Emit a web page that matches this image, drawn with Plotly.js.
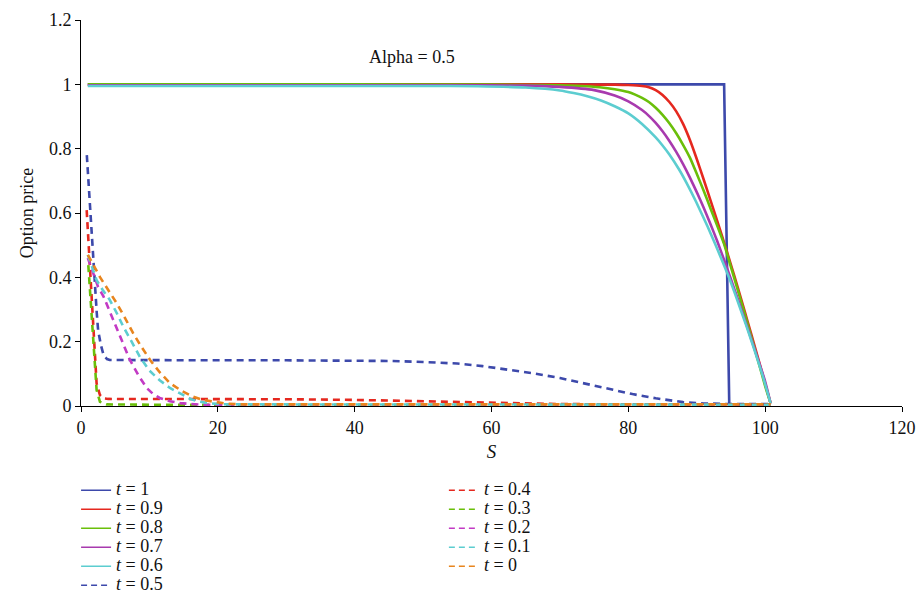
<!DOCTYPE html>
<html>
<head>
<meta charset="utf-8">
<script src="https://cdn.plot.ly/plotly-3.0.1.min.js"></script>
<style>html,body{margin:0;padding:0;background:#fff;}#chart{width:923px;height:597px;}</style>
</head>
<body>
<div id="chart"></div>
<script>
// ---- data ----
const tLabels = ["1","0.9","0.8","0.7","0.6","0.5","0.4","0.3","0.2","0.1","0"];
const colors = ["#3d49ab","#e5281f","#6abf0a","#a83aae","#5ccdd0","#3d49ab","#e5281f","#6abf0a","#c23ac4","#5ccdd0","#e8851e"];

const s_t10 = [1,20,40,60,80,94.0,94.75,100.8];
const p_t10 = [1,1,1,1,1,1,0.005,0.005];

const s_t09 = [1,20,40,60,70,75,78,80,82,83,84,85,86,87,88,89,90,91,92,93,94,95,96,97,98,99,100,100.8];
const p_t09 = [1,1,1,1,1,0.999,0.999,0.998,0.995,0.991,0.982,0.967,0.945,0.916,0.877,0.827,0.768,0.705,0.64,0.575,0.508,0.439,0.368,0.295,0.221,0.146,0.069,0.008];

const s_t08 = [1,20,40,60,65,70,73,75.8,78,80,81,82,83,84,85,86,87,88,89,90,91,92,93,94,95,96,97,98,99,100,100.8];
const p_t08 = [1,1,1,0.999,0.998,0.997,0.995,0.991,0.985,0.976,0.968,0.958,0.945,0.927,0.905,0.879,0.848,0.812,0.772,0.722,0.67,0.615,0.56,0.503,0.432,0.36,0.287,0.213,0.138,0.062,0.008];

const s_t07 = [1,20,40,55,65,70,75,78,80,82,83,84,85,86,87,88,89,90,91,92,93,94,95,96,97,98,99,100,100.8];
const p_t07 = [0.997,0.997,0.997,0.997,0.996,0.992,0.982,0.965,0.947,0.92,0.902,0.88,0.854,0.824,0.79,0.752,0.71,0.665,0.617,0.566,0.512,0.454,0.394,0.333,0.27,0.206,0.142,0.076,0.008];

const s_t06 = [1,20,40,50,58,65,70,72,74,76,78,80,82,84,85,86,87.4,88.6,89.9,91.6,92.6,94.7,96,97.2,98.4,99.6,100.8];
const p_t06 = [0.995,0.995,0.995,0.995,0.994,0.99,0.981,0.973,0.963,0.95,0.932,0.91,0.877,0.835,0.81,0.782,0.736,0.69,0.635,0.557,0.508,0.4,0.325,0.252,0.176,0.097,0.008];

const s_t05 = [0.85,1.07,1.31,1.46,1.8,2.0,2.3,2.5,2.9,3.3,3.8,4.2,10,20,30,40,45,50,55,58.7,62,66,70,73.3,77,80.6,84,88,91,95,100.8];
const p_t05 = [0.78,0.7,0.62,0.578,0.464,0.38,0.29,0.236,0.19,0.158,0.146,0.143,0.142,0.142,0.142,0.141,0.14,0.137,0.132,0.124,0.114,0.102,0.087,0.071,0.055,0.037,0.024,0.012,0.008,0.006,0.006];

const s_t04 = [0.83,1.07,1.31,1.56,1.8,2.04,2.28,2.77,3.26,4,5.2,10,20,30,40,50,54,60,65,70,80,100.8];
const p_t04 = [0.609,0.516,0.433,0.34,0.226,0.122,0.07,0.034,0.024,0.022,0.022,0.022,0.022,0.021,0.019,0.015,0.012,0.009,0.007,0.006,0.005,0.005];

const s_t03 = [1.07,1.31,1.56,1.8,2.04,2.28,2.77,3.75,10,50,100.8];
const p_t03 = [0.438,0.36,0.267,0.184,0.1,0.05,0.013,0.005,0.004,0.004,0.004];

const s_t02 = [1,1.5,1.8,2.5,3.3,4.2,5.2,6.2,7.15,8.4,9.6,10.5,11.5,13,14.5,17.4,20,100.8];
const p_t02 = [0.46,0.43,0.41,0.37,0.34,0.295,0.246,0.195,0.143,0.095,0.056,0.038,0.025,0.015,0.009,0.004,0.003,0.003];

const s_t01 = [1,1.5,2.3,3.2,4.2,5.2,6.2,7.4,8.6,10,11.5,13,14.5,16,17.4,19,21.3,100.8];
const p_t01 = [0.47,0.44,0.39,0.36,0.33,0.29,0.246,0.2,0.153,0.11,0.08,0.056,0.039,0.022,0.013,0.008,0.005,0.004];

const s_t00 = [1,2.8,4,5.2,6.4,7.6,8.8,10.1,11.5,13,14.7,16.4,17.8,19.3,21,23.2,100.8];
const p_t00 = [0.47,0.40,0.36,0.32,0.275,0.227,0.185,0.143,0.105,0.071,0.047,0.029,0.019,0.013,0.008,0.005,0.005];

const xs = [s_t10,s_t09,s_t08,s_t07,s_t06,s_t05,s_t04,s_t03,s_t02,s_t01,s_t00];
const ys = [p_t10,p_t09,p_t08,p_t07,p_t06,p_t05,p_t04,p_t03,p_t02,p_t01,p_t00];

const xTicks = [0,20,40,60,80,100,120];
const yTicks = [0,0.2,0.4,0.6,0.8,1,1.2];
const yTickText = ["0","0.2","0.4","0.6","0.8","1","1.2"];

const FONT = "Liberation Serif, Times New Roman, serif";
const DASH = "7px,5px";

// plotted curves (legend shown through thin-line legend entries below)
const traces = tLabels.map((t, i) => ({
  x: xs[i], y: ys[i], type: "scatter", mode: "lines",
  name: "t = " + t, showlegend: false,
  line: {color: colors[i], width: 2.6, dash: i >= 5 ? DASH : "solid",
         shape: (i >= 1 && i <= 4) ? "spline" : "linear", smoothing: 0.5},
  hoverinfo: "skip"
}));
// legend entries: same series, thinner sample lines like the reference legend
const legendTraces = tLabels.map((t, i) => ({
  x: [null], y: [null], type: "scatter", mode: "lines",
  name: '<span style="font-size:18px"><i>t</i> = ' + t + '</span>',
  line: {color: colors[i], width: 1.6, dash: i >= 5 ? "6px,4px" : "solid"},
  legend: i >= 6 ? "legend2" : "legend",
  hoverinfo: "skip"
}));

const layout = {
  width: 923, height: 597,
  margin: {l: 81, r: 21, t: 20, b: 191, autoexpand: false},
  paper_bgcolor: "#fff", plot_bgcolor: "#fff",
  font: {family: FONT, size: 18, color: "#111"},
  showlegend: true,
  xaxis: {
    range: [0, 120], tickvals: xTicks, ticks: "outside", ticklen: 5, tickcolor: "#000",
    showline: true, linecolor: "#000", linewidth: 1, showgrid: false, zeroline: false,
    tickfont: {family: FONT, size: 18, color: "#111"},
    title: {text: "<i>S</i>", font: {family: FONT, size: 19, color: "#111"}, standoff: 8}
  },
  yaxis: {
    range: [0, 1.2], tickvals: yTicks, ticktext: yTickText, ticks: "outside", ticklen: 5, tickcolor: "#000",
    showline: true, linecolor: "#000", linewidth: 1, showgrid: false, zeroline: false,
    tickfont: {family: FONT, size: 18, color: "#111"},
    title: {text: "Option price", font: {family: FONT, size: 18, color: "#111"}, standoff: 10}
  },
  legend: {
    x: -0.006, y: 0.203, xref: "paper", yref: "container", xanchor: "left", yanchor: "top", orientation: "v",
    font: {family: FONT, size: 11.1, color: "#111"}, bgcolor: "rgba(0,0,0,0)", tracegroupgap: 0
  },
  legend2: {
    x: 0.442, y: 0.203, xref: "paper", yref: "container", xanchor: "left", yanchor: "top", orientation: "v",
    font: {family: FONT, size: 11.1, color: "#111"}, bgcolor: "rgba(0,0,0,0)", tracegroupgap: 0
  },
  annotations: [{
    x: 48.4, y: 1.084, xref: "x", yref: "y", text: "Alpha = 0.5", showarrow: false,
    font: {family: FONT, size: 18, color: "#111"}
  }]
};

Plotly.newPlot("chart", traces.concat(legendTraces), layout, {displayModeBar: false, staticPlot: true});
</script>
</body>
</html>
